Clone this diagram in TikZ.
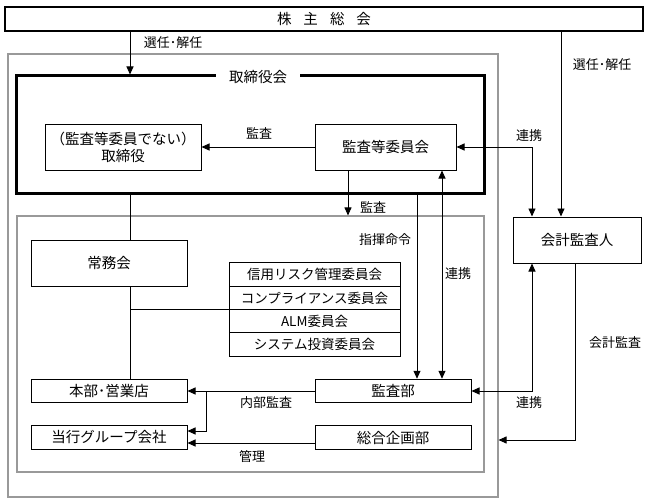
\documentclass[tikz,border=0pt]{standalone}
\usepackage{fontspec}
\newfontfamily\jp{Noto Sans CJK JP}
\usetikzlibrary{arrows.meta}
\begin{document}
\begin{tikzpicture}[x=1pt,y=-1pt,
  font=\jp\fontsize{14.5}{17}\selectfont,
  box/.style={draw, line width=1pt, inner sep=0pt, align=center, minimum width=156pt, minimum height=46pt},
  lowbox/.style={box, minimum height=23.5pt},
  combox/.style={draw, line width=1pt, inner sep=0pt, minimum width=171pt, minimum height=23.25pt, font=\jp\fontsize{13.5}{15}\selectfont},
  frame/.style={draw=gray!80, line width=1.1pt, inner sep=0pt},
  lbl/.style={inner sep=0pt, font=\jp\fontsize{13}{15}\selectfont},
  conn/.style={line width=0.9pt},
  arr/.style={conn, -{Triangle[length=8pt,width=7pt]}},
  dbl/.style={conn, {Triangle[length=8pt,width=7pt]}-{Triangle[length=8pt,width=7pt]}}
]
\useasboundingbox (0,0) rectangle (648,503);
% frames
\node[frame, minimum width=490pt, minimum height=443pt] (outer) at (253,275.5) {};
\node[frame, minimum width=467pt, minimum height=256pt] (inner) at (250.5,344) {};
\node[draw, line width=3pt, inner sep=0pt, minimum width=468pt, minimum height=117pt] (thick) at (250,134.5) {};
\node[fill=white, inner xsep=13pt, inner ysep=2pt] (ttl) at (258,77) {取締役会};
% top
\node[draw, line width=1.1pt, inner sep=0pt, minimum width=638pt, minimum height=24pt] (top) at (324,19) {株\kern12pt 主\kern12pt 総\kern12pt 会};
% boxes
\node[box] (dir) at (123,147) {（監査等委員でない）\\取締役};
\node[box, minimum width=141pt] (audc) at (385.5,147) {監査等委員会};
\node[box] (jomu) at (109,263) {常務会};
\node[combox] (com1) at (314.5,274.6) {信用リスク管理委員会};
\node[combox] (com2) at (314.5,297.9) {コンプライアンス委員会};
\node[combox] (com3) at (314.5,321.1) {ALM委員会};
\node[combox] (com4) at (314.5,344.4) {システム投資委員会};
\node[lowbox] (honbu) at (109,391) {本部･営業店};
\node[lowbox] (group) at (109,437.5) {当行グループ会社};
\node[lowbox] (kansa) at (393,391) {監査部};
\node[lowbox] (sogo) at (393,437.5) {総合企画部};
\node[box, minimum width=128pt] (kaikei) at (577,240) {会計監査人};
% helper coordinates
\coordinate (xa) at (130,0);
\coordinate (xb) at (561,0);
\coordinate (xc) at (348,0);
\coordinate (xd) at (417,0);
\coordinate (xe) at (442,0);
\coordinate (xf) at (532,0);
\coordinate (xg) at (575,0);
\coordinate (xh) at (206,0);
\coordinate (yn) at (0,431);
\coordinate (yp) at (0,443);
\coordinate (yq) at (0,440);
% connectors
\draw[arr] (top.south -| xa) -- (thick.north -| xa);
\draw[arr] (top.south -| xb) -- (kaikei.north -| xb);
\draw[arr] (audc.west) -- (dir.east);
\draw[dbl] (audc.east) -- (audc.east -| xf) -- (kaikei.north -| xf);
\draw[arr] (audc.south -| xc) -- (inner.north -| xc);
\draw[conn] (thick.south -| xa) -- (jomu.north -| xa);
\draw[conn] (jomu.south -| xa) -- (honbu.north -| xa);
\draw[conn] (com3.north west -| xa) -- (com3.north west);
\draw[arr] (thick.south -| xd) -- (kansa.north -| xd);
\draw[dbl] (audc.south -| xe) -- (kansa.north -| xe);
\draw[arr] (kansa.west) -- (honbu.east);
\draw[arr] (kansa.west -| xh) -- (yn -| xh) -- (yn -| honbu.east);
\draw[arr] (yp -| sogo.west) -- (yp -| group.east);
\draw[dbl] (kansa.east) -- (kansa.east -| xf) -- (kaikei.south -| xf);
\draw[arr] (kaikei.south -| xg) -- (yq -| xg) -- (yq -| outer.east);
% labels
\node[lbl] (l1) at (173,43) {選任･解任};
\node[lbl] (l2) at (602,65) {選任･解任};
\node[lbl] (l3) at (259,133) {監査};
\node[lbl] (l4) at (529,136) {連携};
\node[lbl] (l5) at (373,207) {監査};
\node[lbl] (l6) at (385,240) {指揮命令};
\node[lbl] (l7) at (458,274) {連携};
\node[lbl] (l8) at (266,403) {内部監査};
\node[lbl] (l9) at (252,457) {管理};
\node[lbl] (l10) at (529,403) {連携};
\node[lbl] (l11) at (615,343) {会計監査};
\end{tikzpicture}
\end{document}
